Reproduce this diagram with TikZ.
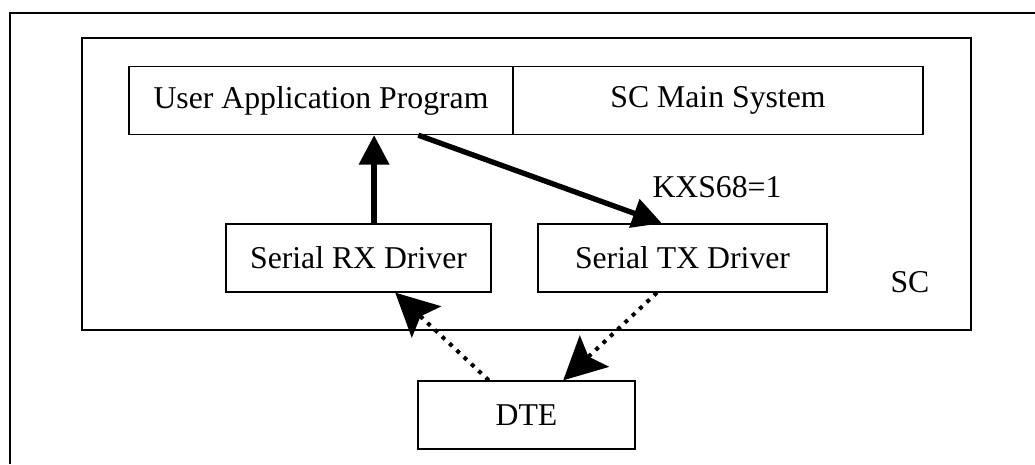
\documentclass[tikz,border=0pt]{standalone}
\usepackage{fontspec}
\setmainfont{Liberation Serif}
\usetikzlibrary{arrows.meta,calc}
\begin{document}
\begin{tikzpicture}[x=0.75pt,y=-0.75pt,
  every node/.style={font=\fontsize{23.8pt}{28pt}\selectfont},
  box/.style={draw, line width=1pt, minimum height=51pt, inner sep=0pt, rectangle},
  thickarrow/.style={line width=4pt, -{Triangle[length=22pt,width=22pt]}},
  dotarrow/.style={line width=3pt, dash pattern=on 3pt off 4.5pt, -{Stealth[length=32pt,width=32pt,inset=6pt]}},
  plain/.style={inner sep=0pt}]
\useasboundingbox (0,0) rectangle (1035,464);
\fill[white] (0,0) rectangle (1035,464);
% outer frame (clipped)
\coordinate (fbl) at (10,464);
\coordinate (ftl) at (10,13);
\coordinate (ftr) at (1035,13);
\draw[line width=1pt] (fbl) -- (ftl) -- (ftr);
% SC container
\node[box, minimum width=666.75pt, minimum height=219pt] (sc) at (526.5,184) {};
\node[plain] (sclabel) at (910,282) {SC};
% top boxes
\node[box, minimum width=288pt] (app) at (321,100.5) {User Application Program};
\node[box, minimum width=307.5pt] (main) at (718,100.5) {SC Main System};
% drivers
\node[box, minimum width=198.75pt] (rx) at (358.5,258) {Serial RX Driver};
\node[box, minimum width=216.75pt] (tx) at (682.5,258) {Serial TX Driver};
% DTE
\node[box, minimum width=162.75pt] (dte) at (526.5,415) {DTE};
% label
\node[plain] (kxs) at (717,187) {KXS68=1};
% arrows
\coordinate (rxa) at ($(rx.north west)!0.5585!(rx.north east)$);
\draw[thickarrow] (rxa) -- (rxa |- app.south);
\coordinate (appb) at ($(app.south west)!0.7526!(app.south east)$);
\coordinate (txt) at ($(tx.north west)!0.429!(tx.north east)$);
\draw[thickarrow] (appb) -- (txt);
\coordinate (dtel) at ($(dte.north west)!0.327!(dte.north east)$);
\coordinate (rxb) at ($(rx.south west)!0.638!(rx.south east)$);
\draw[dotarrow] (dtel) -- (rxb);
\coordinate (txb) at ($(tx.south west)!0.412!(tx.south east)$);
\coordinate (dter) at ($(dte.north west)!0.668!(dte.north east)$);
\draw[dotarrow] (txb) -- (dter);
\end{tikzpicture}
\end{document}
